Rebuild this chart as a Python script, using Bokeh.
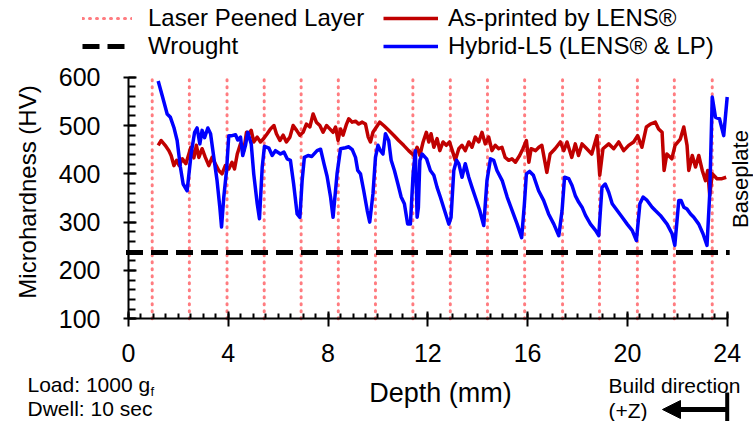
from math import pi
from bokeh.plotting import figure
from bokeh.models import (Range1d, SingleIntervalTicker, Legend, LegendItem, Label,
                          Arrow, NormalHead, TeeHead)
from bokeh.embed import file_html
from bokeh.resources import INLINE

FONT = "Liberation Sans"

# ---------------- data ----------------
lp_depth = [0.95, 2.44, 3.95, 5.44, 6.92, 8.41, 9.90, 11.40, 12.90, 14.39,
            15.88, 17.40, 18.88, 20.40, 21.88, 23.40]

wrought_hv = 237
wrought_depth = [-0.1, 24.1]

asp_depth = [1.19, 1.31, 1.47, 1.62, 1.71, 1.82, 1.93, 2.03, 2.16, 2.30, 2.42, 2.50,
             2.62, 2.72, 2.82, 2.95, 3.08, 3.22, 3.35, 3.48, 3.62, 3.75, 3.88, 4.02,
             4.15, 4.25, 4.36, 4.49, 4.62, 4.73, 4.82, 4.92, 5.02, 5.16, 5.29, 5.42,
             5.56, 5.69, 5.83, 5.93, 6.07, 6.20, 6.33, 6.47, 6.60, 6.74, 6.87, 7.00,
             7.13, 7.27, 7.40, 7.53, 7.67, 7.80, 7.94, 8.07, 8.20, 8.30, 8.40, 8.50,
             8.60, 8.74, 8.83, 8.97, 9.10, 9.23, 9.37, 9.50, 9.61, 9.70, 9.80, 9.94,
             10.07, 10.23, 10.43, 10.63, 10.83, 11.03, 11.23, 11.44, 11.57, 11.68,
             11.81, 11.94, 12.04, 12.13, 12.24, 12.37, 12.48, 12.61, 12.74, 12.87,
             13.00, 13.10, 13.24, 13.37, 13.50, 13.64, 13.77, 13.90, 14.04, 14.17,
             14.30, 14.44, 14.57, 14.70, 14.84, 14.97, 15.10, 15.24, 15.37, 15.51,
             15.68, 15.81, 15.95, 16.05, 16.14, 16.32, 16.45, 16.57, 16.77, 16.90,
             17.10, 17.31, 17.45, 17.58, 17.77, 17.91, 18.04, 18.18, 18.37, 18.57,
             18.78, 18.89, 19.02, 19.25, 19.45, 19.65, 19.85, 20.05, 20.25, 20.41,
             20.58, 20.76, 20.92, 21.12, 21.25, 21.39, 21.47, 21.58, 21.78, 21.91,
             22.12, 22.26, 22.39, 22.46, 22.60, 22.73, 22.86, 23.00, 23.13, 23.22,
             23.30, 23.40, 23.59, 23.79, 23.96]
asp_hv = [459, 469, 459, 448, 438, 417, 428, 417, 431, 421, 441, 455,
          433, 459, 434, 452, 434, 417, 434, 421, 407, 400, 417, 410,
          424, 410, 441, 462, 448, 486, 483, 490, 466, 476, 466, 473,
          483, 493, 500, 483, 469, 480, 466, 476, 500, 490, 480, 486,
          503, 497, 524, 507, 500, 486, 500, 493, 486, 497, 469, 493,
          480, 503, 514, 507, 509, 503, 507, 503, 476, 466, 486, 497,
          507, 500, 490, 480, 469, 459, 448, 438, 455, 438,
          466, 486, 466, 483, 455, 473, 448, 466, 459, 466,
          445, 428, 452, 459, 448, 466, 455, 476, 466, 486,
          462, 476, 448, 459, 452, 455, 434, 428, 431, 424,
          438, 452, 469, 424, 452, 448, 455, 459, 403, 441,
          452, 466, 448, 466, 434, 462, 438, 462, 452, 441,
          479, 397, 452, 462, 452, 466, 448, 459, 466, 479,
          455, 497, 503, 507, 493, 486, 407, 441, 431, 459,
          472, 497, 459, 407, 438, 414, 438, 407, 386, 407,
          355, 400, 390, 390, 393]

hyb_depth = [1.19, 1.35, 1.55, 1.68, 1.82, 1.95, 2.08, 2.19, 2.35, 2.51, 2.65, 2.75,
             2.86, 2.95, 3.05, 3.18, 3.29, 3.42, 3.55, 3.66, 3.73, 3.82, 3.93, 4.02,
             4.15, 4.29, 4.38, 4.49, 4.58, 4.69, 4.78, 4.92, 5.02, 5.16, 5.25, 5.36,
             5.45, 5.63, 5.76, 5.89, 6.09, 6.23, 6.36, 6.49, 6.62, 6.76, 6.87, 6.96,
             7.05, 7.20, 7.35, 7.56, 7.70, 7.84, 7.96, 8.10, 8.20, 8.36, 8.50, 8.70,
             8.83, 8.97, 9.10, 9.19, 9.30, 9.43, 9.57, 9.67, 9.80, 9.90, 10.00, 10.10,
             10.20, 10.30, 10.43, 10.53, 10.66, 10.80, 10.93, 11.06, 11.19, 11.30,
             11.41, 11.50, 11.57, 11.62, 11.68, 11.77, 11.95, 12.10, 12.24, 12.37,
             12.50, 12.67, 12.84, 12.93, 13.04, 13.15, 13.24, 13.37, 13.50, 13.64,
             13.77, 13.90, 14.08, 14.24, 14.37, 14.51, 14.64, 14.77, 14.98, 15.18,
             15.38, 15.58, 15.76, 15.87, 15.95, 16.08, 16.23, 16.44, 16.64, 16.84,
             17.05, 17.25, 17.38, 17.48, 17.65, 17.78, 17.91, 18.05, 18.18, 18.32,
             18.52, 18.72, 18.85, 18.98, 19.11, 19.25, 19.39, 19.59, 19.79, 19.99,
             20.19, 20.36, 20.50, 20.63, 20.79, 20.99, 21.12, 21.32, 21.59, 21.79,
             21.90, 22.06, 22.15, 22.26, 22.39, 22.53, 22.66, 22.86, 23.03, 23.19,
             23.30, 23.40, 23.53, 23.69, 23.86, 24.00]
hyb_hv = [592, 562, 524, 517, 496, 469, 414, 379, 365, 441, 486, 495,
          462, 490, 475, 495, 483, 434, 386, 331, 290, 352, 407, 479,
          479, 481, 470, 476, 438, 459, 486, 462, 400, 338, 307, 414,
          457, 453, 438, 448, 441, 445, 431, 428, 379, 317, 310, 386,
          434, 438, 436, 448, 451, 420, 395, 352, 310, 400, 452, 454,
          456, 450, 434, 407, 400, 365, 324, 300, 359, 434, 459, 448,
          441, 483, 469, 428, 407, 379, 352, 338, 296, 296,
          400, 448, 310, 330, 428, 441, 431, 407, 397, 372,
          352, 324, 296, 310, 407, 428, 421, 393, 421, 393,
          372, 352, 324, 293, 386, 431, 428, 407, 386, 352,
          324, 296, 268, 338, 400, 405, 397, 365, 345, 317,
          296, 272, 324, 393, 390, 376, 355, 341, 331, 314,
          296, 283, 272, 372, 379, 362, 338, 324, 310, 296,
          283, 262, 338, 352, 345, 331, 324, 314, 296, 276,
          252, 345, 345, 331, 327, 317, 310, 296, 276, 252,
          359, 559, 517, 514, 479, 559]

x_bounds = (0, 24)
y_bounds = (100, 600)
x_tick_step = 4
y_tick_step = 100

# ---------------- pixel <-> data helpers (for annotation placement) ----------------
W, H = 753, 421
X0_PX, PX_PER_MM = 128.0, 24.946      # x = 0 at 128 px
Y100_PX, PX_PER_HV = 318.3, 0.4832    # y = 100 at 318.3 px


def dx(px):
    return (px - X0_PX) / PX_PER_MM


def dy(py):
    return 100 + (Y100_PX - py) / PX_PER_HV


# ---------------- figure ----------------
p = figure(width=W, height=H, output_backend="svg", toolbar_location=None,
           x_range=Range1d(dx(0), dx(W)), y_range=Range1d(dy(H), dy(0)),
           min_border=0)
p.outline_line_color = None
p.grid.visible = False
p.background_fill_color = "white"
p.border_fill_color = "white"

xa = p.xaxis[0]
xa.fixed_location = y_bounds[0]
xa.bounds = x_bounds
xa.ticker = SingleIntervalTicker(interval=x_tick_step, num_minor_ticks=8)
xa.major_tick_in = 7
xa.major_tick_out = 8
xa.minor_tick_in = 5
xa.minor_tick_out = 0
xa.major_label_standoff = 17

ya = p.yaxis[0]
ya.fixed_location = x_bounds[0]
ya.bounds = y_bounds
ya.ticker = SingleIntervalTicker(interval=y_tick_step, num_minor_ticks=5)
ya.major_tick_in = 8
ya.major_tick_out = 5
ya.minor_tick_in = 7
ya.minor_tick_out = 0
ya.major_label_standoff = 23

for ax in (xa, ya):
    ax.axis_line_width = 2
    ax.axis_line_color = "black"
    ax.major_tick_line_width = 2
    ax.minor_tick_line_width = 2
    ax.major_tick_line_color = "black"
    ax.minor_tick_line_color = "black"
    ax.major_label_text_font = FONT
    ax.major_label_text_font_size = "25px"
    ax.major_label_text_color = "black"

# ---------------- glyphs ----------------
lp = p.segment(x0=lp_depth, y0=y_bounds[0], x1=lp_depth, y1=y_bounds[1],
               line_color="#ff7c80", line_width=3, line_dash="1 6", line_cap="round")
wr = p.line(wrought_depth, [wrought_hv, wrought_hv], line_color="black",
            line_width=5, line_dash="17 8")
asp = p.line(asp_depth, asp_hv, line_color="#c00000", line_width=3.5, line_join="round")
hyb = p.line(hyb_depth, hyb_hv, line_color="#0000ff", line_width=3.5, line_join="round")

# ---------------- legends ----------------
leg1 = Legend(items=[LegendItem(label="Laser Peened Layer", renderers=[lp]),
                     LegendItem(label="Wrought", renderers=[wr])],
              location=(82, 361))
leg2 = Legend(items=[LegendItem(label="As-printed by LENS®", renderers=[asp]),
                     LegendItem(label="Hybrid-L5 (LENS® & LP)", renderers=[hyb])],
              location=(383, 361))
for lg, gw, so in ((leg1, 50, 16), (leg2, 55, 10)):
    lg.glyph_width = gw
    lg.label_standoff = so
    lg.glyph_height = 26
    lg.label_height = 26
    lg.spacing = 0
    lg.padding = 0
    lg.margin = 0
    lg.border_line_color = None
    lg.background_fill_alpha = 0
    lg.label_text_font = FONT
    lg.label_text_font_size = "24px"
    lg.label_text_color = "black"
    p.add_layout(lg)


# ---------------- texts ----------------
def lab(text, px, py, size, align="left", angle=0.0):
    p.add_layout(Label(x=dx(px), y=dy(py), text=text, text_font=FONT,
                       text_font_size=size, text_align=align, text_baseline="middle",
                       angle=angle, text_color="black"))


lab("Microhardness (HV)", 27, 191.5, "24px", align="center", angle=pi / 2)
lab("Depth (mm)", 440, 392, "27px", align="center")
lab("Baseplate", 740, 178.5, "22px", align="center", angle=pi / 2)
lab("Load: 1000 g", 27, 384, "21px")
lab("f", 150, 391, "13px")
lab("Dwell: 10 sec", 27, 408, "21px")
lab("Build direction", 608, 385, "21px")
lab("(+Z)", 608, 410, "21px")

p.add_layout(Arrow(x_start=x_bounds[1], y_start=dy(409), x_end=dx(662), y_end=dy(409),
                   start=TeeHead(size=34, line_width=4, line_color="black"),
                   end=NormalHead(size=18, fill_color="black", line_color="black"),
                   line_width=5, line_color="black"))

open("out.html", "w").write(file_html(p, INLINE))
